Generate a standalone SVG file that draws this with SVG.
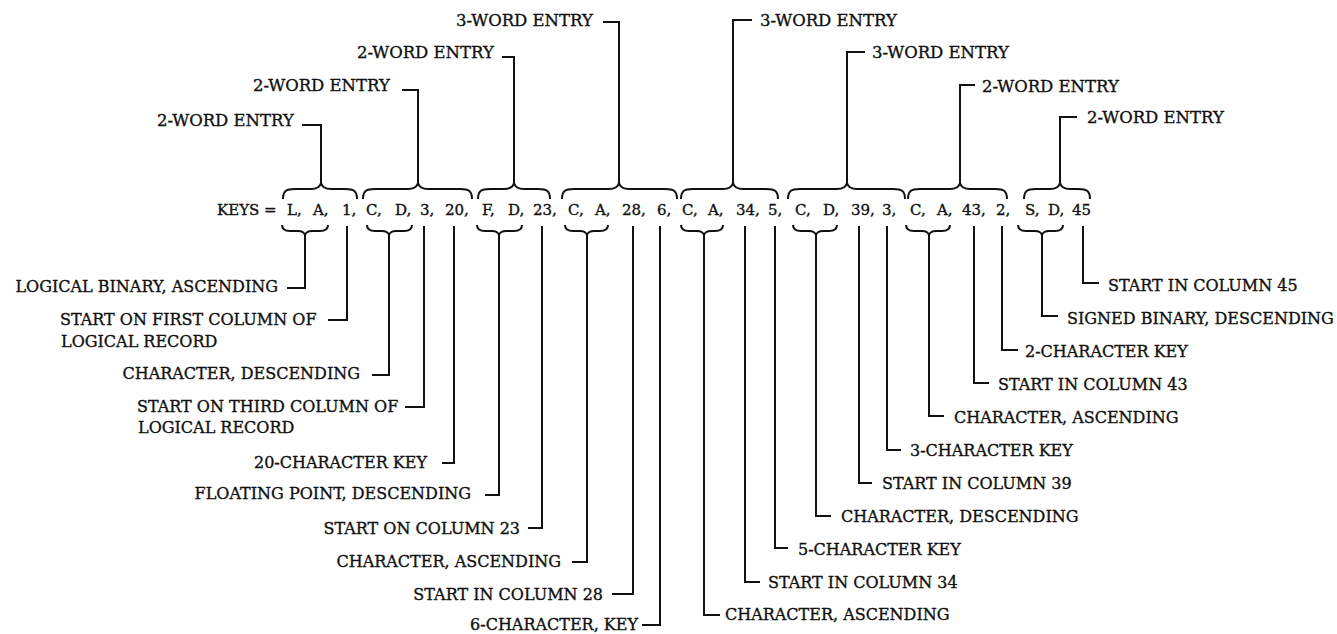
<svg xmlns="http://www.w3.org/2000/svg" width="1337" height="634" viewBox="0 0 1337 634">
<style>
text{font-family:"DejaVu Serif","Liberation Serif",serif;fill:#111;stroke:#111;stroke-width:0.35;}
.lbl{font-size:16px;}
.top{font-size:16.5px;}
.end{text-anchor:end;}
.keys{font-size:15px;}
.ln{fill:none;stroke:#111;stroke-width:2;stroke-linejoin:miter;stroke-linecap:butt;}
</style>
<rect width="1337" height="634" fill="#fff"/>
<g id="keys-expression">
<text class="keys" y="215"><tspan x="217">KEYS =</tspan><tspan x="287">L,</tspan><tspan x="313">A,</tspan><tspan x="342">1,</tspan><tspan x="366">C,</tspan><tspan x="395">D,</tspan><tspan x="420">3,</tspan><tspan x="445">20,</tspan><tspan x="482">F,</tspan><tspan x="508">D,</tspan><tspan x="533">23,</tspan><tspan x="568">C,</tspan><tspan x="595">A,</tspan><tspan x="622">28,</tspan><tspan x="657">6,</tspan><tspan x="682">C,</tspan><tspan x="708">A,</tspan><tspan x="736">34,</tspan><tspan x="768">5,</tspan><tspan x="795">C,</tspan><tspan x="823">D,</tspan><tspan x="851">39,</tspan><tspan x="882">3,</tspan><tspan x="910">C,</tspan><tspan x="937">A,</tspan><tspan x="962">43,</tspan><tspan x="996">2,</tspan><tspan x="1025">S,</tspan><tspan x="1048">D,</tspan><tspan x="1072">45</tspan></text>
</g>
<g id="top-labels">
<g id="t1"><text class="top" x="157" y="126">2-WORD ENTRY</text></g>
<g id="t2"><text class="top" x="253" y="91">2-WORD ENTRY</text></g>
<g id="t3"><text class="top" x="357" y="58">2-WORD ENTRY</text></g>
<g id="t4"><text class="top" x="456" y="26">3-WORD ENTRY</text></g>
<g id="t5"><text class="top" x="760" y="26">3-WORD ENTRY</text></g>
<g id="t6"><text class="top" x="872" y="58">3-WORD ENTRY</text></g>
<g id="t7"><text class="top" x="982" y="92">2-WORD ENTRY</text></g>
<g id="t8"><text class="top" x="1087" y="123">2-WORD ENTRY</text></g>
</g>
<g id="bottom-labels">
<g id="b1"><text class="lbl end" x="278" y="292">LOGICAL BINARY, ASCENDING</text></g>
<g id="b2"><text class="lbl" x="60" y="325">START ON FIRST COLUMN OF</text><text class="lbl" x="61" y="347">LOGICAL RECORD</text></g>
<g id="b3"><text class="lbl end" x="360" y="379">CHARACTER, DESCENDING</text></g>
<g id="b4"><text class="lbl" x="137" y="412">START ON THIRD COLUMN OF</text><text class="lbl" x="138" y="433">LOGICAL RECORD</text></g>
<g id="b5"><text class="lbl end" x="427" y="468">20-CHARACTER KEY</text></g>
<g id="b6"><text class="lbl end" x="471" y="499">FLOATING POINT, DESCENDING</text></g>
<g id="b7"><text class="lbl end" x="520" y="534">START ON COLUMN 23</text></g>
<g id="b8"><text class="lbl end" x="561" y="567">CHARACTER, ASCENDING</text></g>
<g id="b9"><text class="lbl end" x="603" y="600">START IN COLUMN 28</text></g>
<g id="b10"><text class="lbl end" x="638" y="630">6-CHARACTER, KEY</text></g>
<g id="b11"><text class="lbl" x="725" y="620">CHARACTER, ASCENDING</text></g>
<g id="b12"><text class="lbl" x="768" y="588">START IN COLUMN 34</text></g>
<g id="b13"><text class="lbl" x="798" y="555">5-CHARACTER KEY</text></g>
<g id="b14"><text class="lbl" x="841" y="522">CHARACTER, DESCENDING</text></g>
<g id="b15"><text class="lbl" x="882" y="489">START IN COLUMN 39</text></g>
<g id="b16"><text class="lbl" x="910" y="456">3-CHARACTER KEY</text></g>
<g id="b17"><text class="lbl" x="954" y="423">CHARACTER, ASCENDING</text></g>
<g id="b18"><text class="lbl" x="998" y="390">START IN COLUMN 43</text></g>
<g id="b19"><text class="lbl" x="1025" y="357">2-CHARACTER KEY</text></g>
<g id="b20"><text class="lbl" x="1067" y="324">SIGNED BINARY, DESCENDING</text></g>
<g id="b21"><text class="lbl" x="1108" y="291">START IN COLUMN 45</text></g>
</g>
<g id="connectors">
<path class="ln" d="M283 199 C283 191 286 189 295 189 L311 189 C317 189 320 187 321 183 C322 187 325 189 331 189 L345 189 C354 189 357 191 357 199"/>
<path class="ln" d="M363 199 C363 191 366 189 375 189 L408 189 C414 189 417 187 418 183 C419 187 422 189 428 189 L460 189 C469 189 472 191 472 199"/>
<path class="ln" d="M478 199 C478 191 481 189 490 189 L504 189 C510 189 513 187 514 183 C515 187 518 189 524 189 L538 189 C547 189 550 191 550 199"/>
<path class="ln" d="M562 199 C562 191 565 189 574 189 L609 189 C615 189 618 187 619 183 C620 187 623 189 629 189 L665 189 C674 189 677 191 677 199"/>
<path class="ln" d="M681 199 C681 191 684 189 693 189 L723 189 C729 189 732 187 733 183 C734 187 737 189 743 189 L766 189 C775 189 778 191 778 199"/>
<path class="ln" d="M788 199 C788 191 791 189 800 189 L837 189 C843 189 846 187 847 183 C848 187 851 189 857 189 L893 189 C902 189 905 191 905 199"/>
<path class="ln" d="M908 199 C908 191 911 189 920 189 L950 189 C956 189 959 187 960 183 C961 187 964 189 970 189 L995 189 C1004 189 1007 191 1007 199"/>
<path class="ln" d="M1024 199 C1024 191 1027 189 1036 189 L1050 189 C1056 189 1059 187 1060 183 C1061 187 1064 189 1070 189 L1078 189 C1087 189 1090 191 1090 199"/>
<path class="ln" d="M302 125 H321 V184"/>
<path class="ln" d="M402 90 H418 V184"/>
<path class="ln" d="M502 57 H514 V184"/>
<path class="ln" d="M603 22 H619 V184"/>
<path class="ln" d="M752 20 H733 V184"/>
<path class="ln" d="M865 52 H847 V184"/>
<path class="ln" d="M975 85 H960 V184"/>
<path class="ln" d="M1077 117 H1060 V184"/>
<path class="ln" d="M282 225 C282 229 284 231 290 231 L298 231 C302 231 304 232 305 235 C306 232 308 231 312 231 L320 231 C326 231 328 229 328 225"/>
<path class="ln" d="M367 225 C367 229 369 231 375 231 L382 231 C386 231 388 232 389 235 C390 232 392 231 396 231 L404 231 C410 231 412 229 412 225"/>
<path class="ln" d="M477 225 C477 229 479 231 485 231 L492 231 C496 231 498 232 499 235 C500 232 502 231 506 231 L514 231 C520 231 522 229 522 225"/>
<path class="ln" d="M565 225 C565 229 567 231 573 231 L580 231 C584 231 586 232 587 235 C588 232 590 231 594 231 L600 231 C606 231 608 229 608 225"/>
<path class="ln" d="M681 225 C681 229 683 231 689 231 L697 231 C701 231 703 232 704 235 C705 232 707 231 711 231 L715 231 C721 231 723 229 723 225"/>
<path class="ln" d="M793 225 C793 229 795 231 801 231 L809 231 C813 231 815 232 816 235 C817 232 819 231 823 231 L829 231 C835 231 837 229 837 225"/>
<path class="ln" d="M906 225 C906 229 908 231 914 231 L922 231 C926 231 928 232 929 235 C930 232 932 231 936 231 L942 231 C948 231 950 229 950 225"/>
<path class="ln" d="M1018 225 C1018 229 1020 231 1026 231 L1035 231 C1039 231 1041 232 1042 235 C1043 232 1045 231 1049 231 L1055 231 C1061 231 1063 229 1063 225"/>
<path class="ln" d="M305 234 V288 H287"/>
<path class="ln" d="M347 226 V320 H328"/>
<path class="ln" d="M389 234 V375 H372"/>
<path class="ln" d="M424 226 V407 H405"/>
<path class="ln" d="M454 226 V463 H442"/>
<path class="ln" d="M499 234 V495 H485"/>
<path class="ln" d="M542 226 V528 H528"/>
<path class="ln" d="M587 234 V562 H572"/>
<path class="ln" d="M633 226 V594 H612"/>
<path class="ln" d="M660 226 V625 H642"/>
<path class="ln" d="M704 234 V615 H720"/>
<path class="ln" d="M745 226 V582 H760"/>
<path class="ln" d="M775 226 V548 H788"/>
<path class="ln" d="M816 234 V516 H831"/>
<path class="ln" d="M859 226 V483 H872"/>
<path class="ln" d="M887 226 V450 H901"/>
<path class="ln" d="M929 234 V416 H944"/>
<path class="ln" d="M974 226 V383 H989"/>
<path class="ln" d="M1002 226 V350 H1018"/>
<path class="ln" d="M1042 234 V316 H1058"/>
<path class="ln" d="M1083 226 V283 H1099"/>
</g>
</svg>
